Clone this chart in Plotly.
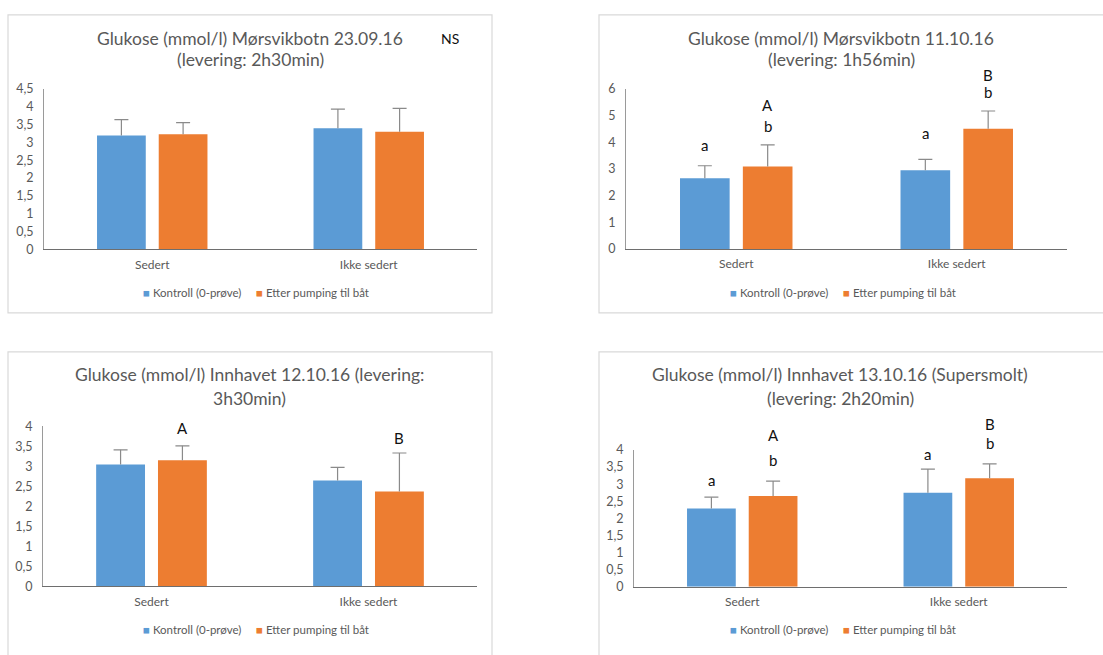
import plotly.graph_objects as go

W, H = 1103, 655

categories = ["Sedert", "Ikke sedert"]
series_names = ["Kontroll (0-prøve)", "Etter pumping til båt"]
series_colors = ["#5B9BD5", "#ED7D31"]

# Panel 1: Mørsvikbotn 23.09.16
p1_title = ["Glukose (mmol/l) Mørsvikbotn 23.09.16", "(levering: 2h30min)"]
p1_kontroll = [3.20, 3.40]
p1_kontroll_err = [0.44, 0.54]
p1_etter = [3.23, 3.30]
p1_etter_err = [0.33, 0.66]
p1_ticks = [0, 0.5, 1, 1.5, 2, 2.5, 3, 3.5, 4, 4.5]
p1_ticktext = ["0", "0,5", "1", "1,5", "2", "2,5", "3", "3,5", "4", "4,5"]
p1_labels_text = []
p1_labels_cat = []
p1_labels_series = []
p1_labels_y = []

# Panel 2: Mørsvikbotn 11.10.16
p2_title = ["Glukose (mmol/l) Mørsvikbotn 11.10.16", "(levering: 1h56min)"]
p2_kontroll = [2.65, 2.95]
p2_kontroll_err = [0.47, 0.41]
p2_etter = [3.09, 4.50]
p2_etter_err = [0.81, 0.67]
p2_ticks = [0, 1, 2, 3, 4, 5, 6]
p2_ticktext = ["0", "1", "2", "3", "4", "5", "6"]
p2_labels_text = ["a", "A", "b", "a", "B", "b"]
p2_labels_cat = [0, 0, 0, 1, 1, 1]
p2_labels_series = [0, 1, 1, 0, 1, 1]
p2_labels_y = [3.90, 5.40, 4.61, 4.33, 6.53, 5.89]

# Panel 3: Innhavet 12.10.16
p3_title = ["Glukose (mmol/l) Innhavet 12.10.16 (levering:", "3h30min)"]
p3_kontroll = [3.04, 2.64]
p3_kontroll_err = [0.37, 0.33]
p3_etter = [3.15, 2.37]
p3_etter_err = [0.36, 0.96]
p3_ticks = [0, 0.5, 1, 1.5, 2, 2.5, 3, 3.5, 4]
p3_ticktext = ["0", "0,5", "1", "1,5", "2", "2,5", "3", "3,5", "4"]
p3_labels_text = ["A", "B"]
p3_labels_cat = [0, 1]
p3_labels_series = [1, 1]
p3_labels_y = [3.95, 3.71]

# Panel 4: Innhavet 13.10.16 (Supersmolt)
p4_title = ["Glukose (mmol/l) Innhavet 13.10.16 (Supersmolt)", "(levering: 2h20min)"]
p4_kontroll = [2.29, 2.75]
p4_kontroll_err = [0.33, 0.69]
p4_etter = [2.65, 3.17]
p4_etter_err = [0.44, 0.42]
p4_ticks = [0, 0.5, 1, 1.5, 2, 2.5, 3, 3.5, 4]
p4_ticktext = ["0", "0,5", "1", "1,5", "2", "2,5", "3", "3,5", "4"]
p4_labels_text = ["a", "A", "b", "a", "B", "b"]
p4_labels_cat = [0, 0, 0, 1, 1, 1]
p4_labels_series = [0, 1, 1, 0, 1, 1]
p4_labels_y = [3.11, 4.45, 3.70, 3.89, 4.75, 4.21]

FONT = "Lato"
GREY_TEXT = "#595959"
ERR_COLOR = "#8a8a8a"
BARGAP = 0.43
BARGROUPGAP = 0.21
SLOT = (1 - BARGAP) / 2
BARWIDTH = SLOT * (1 - BARGROUPGAP)
SERIES_OFFSETS = [-SLOT / 2, SLOT / 2]


def px_x(v):
    return v / W


def px_y(v):
    return 1 - v / H


panels = [
    dict(title=p1_title, vals=[p1_kontroll, p1_etter], errs=[p1_kontroll_err, p1_etter_err],
         ticks=p1_ticks, ticktext=p1_ticktext, ymax=4.5,
         lt=p1_labels_text, lc=p1_labels_cat, ls=p1_labels_series, ly=p1_labels_y,
         xdom=(44, 477), ydom=(247, 83), box=(8, 7, 492, 312),
         title_x=250, title_y=(31, 53), legend=(256, 291)),
    dict(title=p2_title, vals=[p2_kontroll, p2_etter], errs=[p2_kontroll_err, p2_etter_err],
         ticks=p2_ticks, ticktext=p2_ticktext, ymax=6,
         lt=p2_labels_text, lc=p2_labels_cat, ls=p2_labels_series, ly=p2_labels_y,
         xdom=(626, 1067), ydom=(246.7, 82.7), box=(599, 7, 1115, 312),
         title_x=841, title_y=(31, 53), legend=(843, 291)),
    dict(title=p3_title, vals=[p3_kontroll, p3_etter], errs=[p3_kontroll_err, p3_etter_err],
         ticks=p3_ticks, ticktext=p3_ticktext, ymax=4,
         lt=p3_labels_text, lc=p3_labels_cat, ls=p3_labels_series, ly=p3_labels_y,
         xdom=(43, 477), ydom=(591.7, 428), box=(8, 352, 492, 670),
         title_x=249, title_y=(375, 400), legend=(256, 636)),
    dict(title=p4_title, vals=[p4_kontroll, p4_etter], errs=[p4_kontroll_err, p4_etter_err],
         ticks=p4_ticks, ticktext=p4_ticktext, ymax=4,
         lt=p4_labels_text, lc=p4_labels_cat, ls=p4_labels_series, ly=p4_labels_y,
         xdom=(634, 1067), ydom=(592.3, 452.3), box=(599, 352, 1115, 670),
         title_x=840, title_y=(375, 400), legend=(843, 636)),
]

fig = go.Figure()
annotations = []
shapes = []
layout_extra = {}
cat_index = list(range(len(categories)))

for i, p in enumerate(panels):
    n = i + 1
    xa = "x" if n == 1 else f"x{n}"
    ya = "y" if n == 1 else f"y{n}"
    for s in range(2):
        xs = [c + SERIES_OFFSETS[s] for c in cat_index]
        vals = p["vals"][s]
        errs = p["errs"][s]
        fig.add_trace(go.Bar(
            x=xs, y=vals, width=BARWIDTH, name=series_names[s],
            marker=dict(color=series_colors[s], line=dict(width=0)),
            error_y=dict(type="data", array=errs, arrayminus=[0] * len(errs), symmetric=False,
                         color=ERR_COLOR, thickness=1.2, width=0),
            xaxis=xa, yaxis=ya, showlegend=False,
        ))
        # error-bar caps
        fig.add_trace(go.Scatter(
            x=xs, y=[v + e for v, e in zip(vals, errs)], mode="markers",
            marker=dict(symbol="line-ew-open", size=10, color=ERR_COLOR,
                        line=dict(color=ERR_COLOR, width=1.2)),
            xaxis=xa, yaxis=ya, showlegend=False, hoverinfo="skip",
        ))
    xkey = "xaxis" if n == 1 else f"xaxis{n}"
    ykey = "yaxis" if n == 1 else f"yaxis{n}"
    layout_extra[xkey] = dict(
        domain=[px_x(p["xdom"][0]), px_x(p["xdom"][1])], anchor=ya,
        range=[-0.5, len(categories) - 0.5], tickvals=cat_index, ticktext=categories,
        showline=True, linecolor="#6e6e6e", linewidth=1,
        showgrid=False, zeroline=False, ticks="", ticklabelstandoff=4,
        tickfont=dict(family=FONT, size=12, color=GREY_TEXT), fixedrange=True,
    )
    layout_extra[ykey] = dict(
        domain=[px_y(p["ydom"][0]), px_y(p["ydom"][1])], anchor=xa,
        range=[0, p["ymax"]], showline=True, linecolor="#9a9a9a", linewidth=1,
        showgrid=False, zeroline=False, ticks="", tickvals=p["ticks"], ticktext=p["ticktext"],
        ticklabelstandoff=7, tickfont=dict(family=FONT, size=12.5, color=GREY_TEXT),
        fixedrange=True,
    )
    bx0, by0, bx1, by1 = p["box"]
    shapes.append(dict(type="rect", xref="paper", yref="paper",
                       x0=px_x(bx0), x1=px_x(bx1), y0=px_y(by1), y1=px_y(by0),
                       line=dict(color="#d9d9d9", width=1.2), fillcolor="rgba(0,0,0,0)", layer="below"))
    for line_text, ty in zip(p["title"], p["title_y"]):
        annotations.append(dict(text=line_text, xref="paper", yref="paper",
                                x=px_x(p["title_x"]), y=px_y(ty), xanchor="center", yanchor="middle",
                                showarrow=False, font=dict(family=FONT, size=17.5, color=GREY_TEXT)))
    # legend (drawn as text)
    legend_parts = [
        f"<span style='color:{series_colors[k]}'>■</span> {series_names[k]}" for k in range(2)
    ]
    annotations.append(dict(text="&nbsp;&nbsp;&nbsp;&nbsp;&nbsp;".join(legend_parts),
                            xref="paper", yref="paper",
                            x=px_x(p["legend"][0]), y=px_y(p["legend"][1]),
                            xanchor="center", yanchor="middle", showarrow=False,
                            font=dict(family=FONT, size=11.5, color=GREY_TEXT)))
    # significance letters
    xdom_ref = f"{xa} domain"
    ydom_ref = f"{ya} domain"
    ncat = len(categories)
    for t, c, s, yv in zip(p["lt"], p["lc"], p["ls"], p["ly"]):
        xpos = (c + SERIES_OFFSETS[s] + 0.5) / ncat
        annotations.append(dict(text=t, xref=xdom_ref, yref=ydom_ref, x=xpos,
                                y=yv / p["ymax"], xanchor="center", yanchor="middle", showarrow=False,
                                font=dict(family=FONT, size=15, color="#111111")))

annotations.append(dict(text="NS", xref="paper", yref="paper", x=px_x(450), y=px_y(31),
                        xanchor="center", yanchor="middle", showarrow=False,
                        font=dict(family=FONT, size=14, color="#111111")))

fig.update_layout(
    width=W, height=H, margin=dict(l=0, r=0, t=0, b=0),
    paper_bgcolor="white", plot_bgcolor="white",
    barmode="overlay", showlegend=False,
    annotations=annotations, shapes=shapes,
    **layout_extra,
)

fig.write_html(
    "out.html",
    config={"displayModeBar": False},
    post_script=(
        "document.body.style.margin='0';"
        "document.body.style.overflow='hidden';"
        "document.documentElement.style.overflow='hidden';"
    ),
)
